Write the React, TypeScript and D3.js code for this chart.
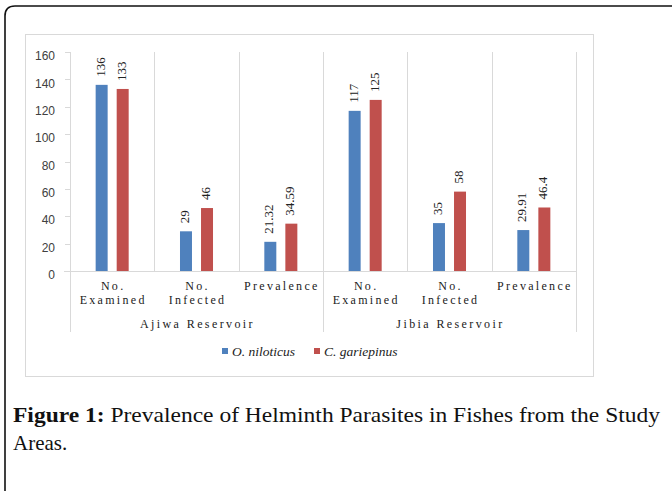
import React from "react";
import * as d3 from "d3";

const groups = ["Ajiwa Reservoir", "Jibia Reservoir"];
const subCategories = [["No.", "Examined"], ["No.", "Infected"], ["Prevalence"]];
const seriesNames = ["O. niloticus", "C. gariepinus"];
const oNiloticus = [136, 29, 21.32, 117, 35, 29.91];
const cGariepinus = [133, 46, 34.59, 125, 58, 46.4];
const valueLabels0 = ["136", "29", "21.32", "117", "35", "29.91"];
const valueLabels1 = ["133", "46", "34.59", "125", "58", "46.4"];
const yTicks = [0, 20, 40, 60, 80, 100, 120, 140, 160];
const colors = ["#4F81BD", "#C0504D"];

export default function App() {
  const W = 672, H = 491;
  const left = 70, right = 576, top = 52, base = 271, axisBottom = 332;
  const cats = d3.range(groups.length * subCategories.length);
  const x0 = d3.scaleBand<number>().domain(cats).range([left, right]);
  const x1 = d3.scaleBand<number>().domain([0, 1]).range([0, x0.bandwidth()]).paddingInner(0.43).paddingOuter(1.22);
  const y = d3.scaleLinear().domain([0, 160]).range([base, top]);
  const series = [oNiloticus, cGariepinus];
  const labels = [valueLabels0, valueLabels1];
  const grid = "#d9d9d9";
  const groupW = x0.step() * subCategories.length;
  const catFont = "'Liberation Serif', 'Times New Roman', serif";

  return (
    <svg width={W} height={H} style={{ position: "absolute", left: 0, top: 0, background: "#fff" }}>
      {/* outer frame */}
      <path d="M5,495 L5,16 Q5,6 15,6 L680,6" fill="none" stroke="#111" strokeWidth={1.6} />
      {/* chart box */}
      <rect x={25.5} y={34.5} width={568} height={342} fill="#fff" stroke={grid} strokeWidth={1} />
      {/* vertical gridlines / separators */}
      {cats.map((c) => {
        const xx = Math.round(x0(c)! + x0.step()) + 0.5;
        const isGroupEnd = (c + 1) % subCategories.length === 0;
        return <line key={"g" + c} x1={xx} x2={xx} y1={top} y2={isGroupEnd ? axisBottom : base} stroke={grid} />;
      })}
      {/* y axis */}
      <line x1={left + 0.5} x2={left + 0.5} y1={top} y2={axisBottom} stroke={grid} />
      {yTicks.map((t) => (
        <g key={"t" + t}>
          <line x1={left - 5} x2={left} y1={Math.round(y(t)) + 0.5} y2={Math.round(y(t)) + 0.5} stroke={grid} />
          <text x={55} y={y(t) + 5} textAnchor="end" dominantBaseline="middle" fontSize={12} fontFamily="'Liberation Sans', Arial, sans-serif" fill="#404040">{t}</text>
        </g>
      ))}
      <line x1={left - 6} x2={right} y1={base + 0.5} y2={base + 0.5} stroke={grid} />
      {/* bars */}
      {series.map((s, si) =>
        s.map((v, i) => {
          const bx = x0(i)! + x1(si)!;
          const cx = bx + x1.bandwidth() / 2;
          return (
            <g key={si + "-" + i}>
              <rect x={bx} y={y(v)} width={x1.bandwidth()} height={base - y(v)} fill={colors[si]} />
              <text transform={`translate(${cx},${y(v) - 8}) rotate(-90)`} textAnchor="start" dominantBaseline="middle" fontSize={13} fontFamily={catFont} fill="#222">{labels[si][i]}</text>
            </g>
          );
        })
      )}
      {/* category labels */}
      {cats.map((c) => {
        const lines = subCategories[c % subCategories.length];
        const cx = x0(c)! + x0.bandwidth() / 2 + 1;
        return (
          <text key={"c" + c} x={cx} textAnchor="middle" fontSize={12} fontFamily={catFont} letterSpacing={2.3} fill="#222">
            {lines.map((l, li) => (
              <tspan key={li} x={cx} y={290 + li * 14}>{l}</tspan>
            ))}
          </text>
        );
      })}
      {groups.map((g, gi) => (
        <text key={g} x={left + groupW * gi + groupW / 2 + 1} y={328} textAnchor="middle" fontSize={12} fontFamily={catFont} letterSpacing={2.4} fill="#222">{g}</text>
      ))}
      {/* legend */}
      {seriesNames.map((n, i) => {
        const lx = [222, 314][i];
        return (
          <g key={n}>
            <rect x={lx} y={348} width={6} height={6} fill={colors[i]} />
            <text x={lx + 10} y={355.5} fontSize={13.5} fontStyle="italic" fontFamily={catFont} fill="#222">{n}</text>
          </g>
        );
      })}
      {/* caption */}
      <text x={13} y={422} fontSize={21} fontFamily={catFont} fill="#111" textLength={647} lengthAdjust="spacingAndGlyphs">
        <tspan fontWeight="bold">Figure 1:</tspan>
        <tspan> Prevalence of Helminth Parasites in Fishes from the Study</tspan>
      </text>
      <text x={13} y={450} fontSize={21} fontFamily={catFont} fill="#111">Areas.</text>
    </svg>
  );
}
